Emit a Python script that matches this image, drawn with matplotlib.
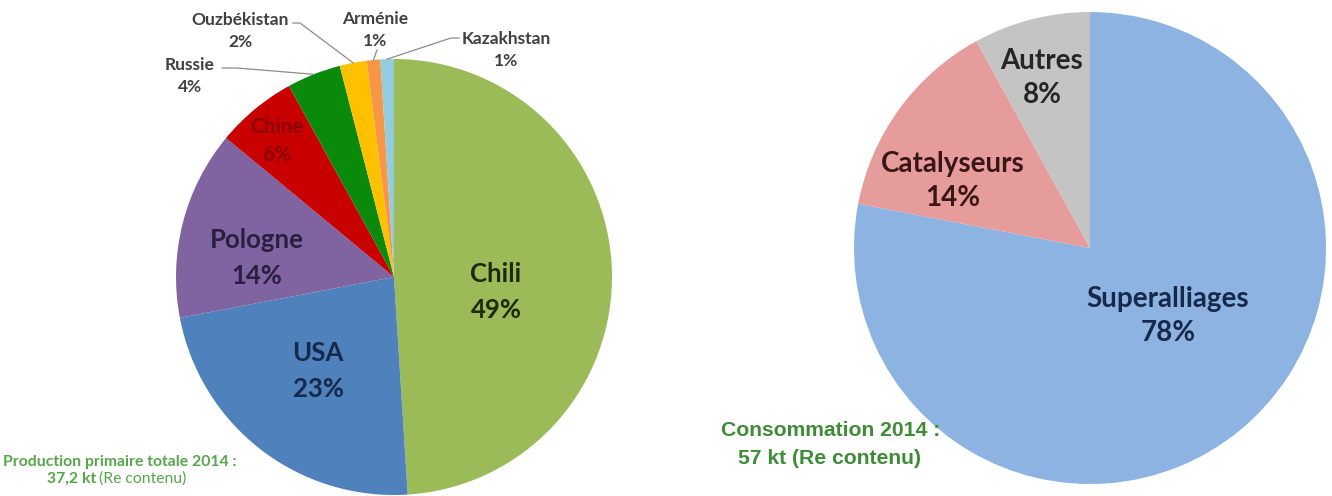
import matplotlib
matplotlib.use("Agg")
import matplotlib.pyplot as plt
import numpy as np

# left pie: primary production 2014 by country
countries = ["Chili", "USA", "Pologne", "Chine", "Russie", "Ouzbékistan", "Arménie", "Kazakhstan"]
production = [49, 23, 14, 6, 4, 2, 1, 1]
country_colors = ["#9bbb59", "#4f81bd", "#8064a2", "#c80000", "#0a8a0a", "#ffc000", "#f79646", "#93cddd"]

# right pie: consumption 2014 by use
uses = ["Superalliages", "Catalyseurs", "Autres"]
consumption = [78, 14, 8]
use_colors = ["#8db3e2", "#e59c9b", "#c4c4c4"]

W, H = 1332, 496
fig = plt.figure(figsize=(W / 100, H / 100), dpi=100)
fig.patch.set_facecolor("white")


def pie_axes(cx, cy, r):
    # pixel centre/radius -> figure axes
    ax = fig.add_axes([(cx - r) / W, (H - cy - r) / H, 2 * r / W, 2 * r / H])
    ax.axis("off")
    return ax


def fix_limits(ax):
    # pie() sets +-1.25 limits, pull them back so the radius fills the axes
    ax.set_xlim(-1, 1)
    ax.set_ylim(-1, 1)
    ax.set_aspect("equal")


def px(cx, cy, r, x, y):
    return (x - cx) / r, (cy - y) / r


CAL = ["Lato", "DejaVu Sans"]
ARI = ["Liberation Sans", "DejaVu Sans"]

# ---- left pie ----
lcx, lcy, lr = 394, 277, 218
ax1 = pie_axes(lcx, lcy, lr)
ax1.pie(production, colors=country_colors, startangle=90, counterclock=False,
        radius=1, wedgeprops=dict(linewidth=0))
fix_limits(ax1)

inside = {
    "Chili": ((496, 292), "#1d2a0c", 18.5, 1.6),
    "USA": ((318, 371), "#16294a", 18.5, 1.6),
    "Pologne": ((257, 258), "#2b1f40", 18.5, 1.6),
    "Chine": ((277, 141), "#8a0000", 15, 1.48),
}
outside = {
    "Russie": (190, 76),
    "Ouzbékistan": (240, 31),
    "Arménie": (375, 30),
    "Kazakhstan": (506, 50),
}
# leader line start points (pixels) near the label
leader = {
    "Russie": [(222, 68), (237, 68)],
    "Ouzbékistan": [(293, 23), (300, 23)],
    "Arménie": [(377, 50)],
    "Kazakhstan": [(459, 38), (451, 38)],
}

cum = 0
for name, val in zip(countries, production):
    mid = 90 - (cum + val / 2) / 100 * 360
    cum += val
    lab = f"{name}\n{val}%"
    if name in inside:
        (x, y), c, fs, ls = inside[name]
        tx, ty = px(lcx, lcy, lr, x, y)
        ax1.text(tx, ty, lab, ha="center", va="center", fontsize=fs,
                 fontweight="bold", color=c, family=CAL, linespacing=ls)
    else:
        x, y = outside[name]
        tx, ty = px(lcx, lcy, lr, x, y)
        ax1.text(tx, ty, lab, ha="center", va="center", fontsize=12.5,
                 fontweight="bold", color="#404040", family=CAL, linespacing=1.5)
        pts = [px(lcx, lcy, lr, a, b) for a, b in leader[name]]
        pts.append((np.cos(np.radians(mid)), np.sin(np.radians(mid))))
        ax1.plot([p[0] for p in pts], [p[1] for p in pts], color="#8c8c8c",
                 lw=0.9, clip_on=False)

# ---- right pie ----
rcx, rcy, rr = 1090, 248, 236
ax2 = pie_axes(rcx, rcy, rr)
ax2.pie(consumption, colors=use_colors, startangle=90, counterclock=False,
        radius=1, wedgeprops=dict(linewidth=0))
fix_limits(ax2)

right_lab = {
    "Superalliages": ((1168, 316), "#17294a"),
    "Catalyseurs": ((953, 181), "#3a1616"),
    "Autres": ((1042, 78), "#262626"),
}
for name, val in zip(uses, consumption):
    (x, y), c = right_lab[name]
    tx, ty = px(rcx, rcy, rr, x, y)
    ax2.text(tx, ty, f"{name}\n{val}%", ha="center", va="center", fontsize=20,
             fontweight="bold", color=c, family=CAL, linespacing=1.38)

# ---- footnotes ----
g1 = "#56a64a"
fig.text(120 / W, 1 - 462 / H, "Production primaire totale 2014 :", ha="center",
         va="center", fontsize=11.3, fontweight="bold", color=g1, family=CAL)
fig.text(96 / W, 1 - 479 / H, "37,2 kt", ha="right", va="center", fontsize=11.3,
         fontweight="bold", color=g1, family=CAL)
fig.text(99 / W, 1 - 479 / H, "(Re contenu)", ha="left", va="center", fontsize=11.3,
         color=g1, family=CAL)

g2 = "#3f8c37"
fig.text(831 / W, 1 - 430 / H, "Consommation 2014 :", ha="center", va="center",
         fontsize=15.2, fontweight="bold", color=g2, family=ARI)
fig.text(829 / W, 1 - 458 / H, "57 kt (Re contenu)", ha="center", va="center",
         fontsize=15.2, fontweight="bold", color=g2, family=ARI)

fig.savefig("out.png", dpi=100, facecolor="white")
